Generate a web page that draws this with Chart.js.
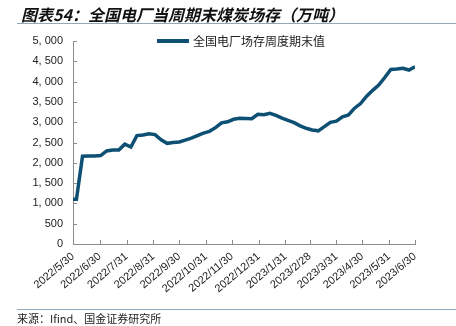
<!DOCTYPE html>
<html>
<head>
<meta charset="utf-8">
<script src="https://cdn.jsdelivr.net/npm/chart.js@4"></script>
<style>
  body { margin: 0; width: 456px; height: 326px; position: relative; background: #fff; overflow: hidden; }
  #title { position: absolute; left: 21px; top: 2px; font: italic bold 16px "Noto Sans CJK SC", sans-serif; color: #111; }
  .rule { position: absolute; left: 17px; right: 0; height: 1px; background: #8fa8ba; }
  #legend { position: absolute; left: 157px; top: 32px; font: 12px "Noto Sans CJK SC", sans-serif; color: #222; display: flex; align-items: center; }
  #legend i { display: inline-block; width: 32px; height: 4px; margin-right: 4px; }
  #source { position: absolute; left: 17px; top: 310px; font: 11px "Noto Sans CJK SC", sans-serif; color: #222; }
  canvas { position: absolute; left: 0; top: 0; }
</style>
</head>
<body>
<canvas id="myChart" width="456" height="326"></canvas>
<div id="title">图表54：全国电厂当周期末煤炭场存（万吨）</div>
<div class="rule" style="top:23px"></div>
<div id="legend"><i></i><span></span></div>
<div class="rule" style="top:309px"></div>
<div id="source">来源：Ifind、国金证券研究所</div>
<script>
var seriesName = "全国电厂场存周度期末值";
var lineColor = "#0d5074";

// weekly end-of-period dates (first point 2022/5/30, then Fridays)
var dates = [
  "2022/5/30", "2022/6/3", "2022/6/10", "2022/6/17", "2022/6/24", "2022/7/1", "2022/7/8",
  "2022/7/15", "2022/7/22", "2022/7/29", "2022/8/5", "2022/8/12", "2022/8/19", "2022/8/26",
  "2022/9/2", "2022/9/9", "2022/9/16", "2022/9/23", "2022/9/30", "2022/10/7", "2022/10/14",
  "2022/10/21", "2022/10/28", "2022/11/4", "2022/11/11", "2022/11/18", "2022/11/25", "2022/12/2",
  "2022/12/9", "2022/12/16", "2022/12/23", "2022/12/30", "2023/1/6", "2023/1/13", "2023/1/20",
  "2023/1/27", "2023/2/3", "2023/2/10", "2023/2/17", "2023/2/24", "2023/3/3", "2023/3/10",
  "2023/3/17", "2023/3/24", "2023/3/31", "2023/4/7", "2023/4/14", "2023/4/21", "2023/4/28",
  "2023/5/5", "2023/5/12", "2023/5/19", "2023/5/26", "2023/6/2", "2023/6/9", "2023/6/16",
  "2023/6/23", "2023/6/30"
];
var stock = [
  1100, 1100, 2160, 2165, 2170, 2177, 2292, 2313, 2317, 2460, 2390, 2670, 2683, 2715,
  2695, 2565, 2480, 2500, 2513, 2560, 2608, 2670, 2730, 2775, 2866, 2985, 3010, 3072,
  3095, 3090, 3085, 3195, 3182, 3218, 3170, 3100, 3045, 2990, 2910, 2850, 2810, 2787,
  2890, 2998, 3025, 3135, 3180, 3345, 3460, 3640, 3785, 3915, 4100, 4298, 4310, 4330,
  4285, 4364
];
var tickDates = [
  "2022/5/30", "2022/6/30", "2022/7/31", "2022/8/31", "2022/9/30", "2022/10/31", "2022/11/30",
  "2022/12/31", "2023/1/31", "2023/2/28", "2023/3/31", "2023/4/30", "2023/5/31", "2023/6/30"
];
var yTicks = [0, 500, 1000, 1500, 2000, 2500, 3000, 3500, 4000, 4500, 5000];

function dayOf(s) {
  var p = s.split("/");
  var t = Date.UTC(+p[0], +p[1] - 1, +p[2]);
  var p0 = tickDates[0].split("/");
  return Math.round((t - Date.UTC(+p0[0], +p0[1] - 1, +p0[2])) / 86400000);
}
var tickDays = tickDates.map(dayOf);

document.querySelector("#legend i").style.background = lineColor;
document.querySelector("#legend span").textContent = seriesName;

// small inward tick marks on both axes
var innerTicks = {
  id: "innerTicks",
  afterDraw: function (chart) {
    var c = chart.ctx, a = chart.chartArea, xs = chart.scales.x, ys = chart.scales.y;
    c.save();
    c.strokeStyle = "#8c8c8c";
    c.lineWidth = 1;
    c.beginPath();
    yTicks.forEach(function (v) {
      var y = Math.round(ys.getPixelForValue(v)) + 0.5;
      c.moveTo(a.left, y); c.lineTo(a.left + 4, y);
    });
    tickDays.forEach(function (d) {
      var x = Math.round(xs.getPixelForValue(d)) + 0.5;
      c.moveTo(x, a.bottom); c.lineTo(x, a.bottom - 4);
    });
    c.stroke();
    c.restore();
  }
};

var ctx = document.getElementById("myChart").getContext("2d");
var chart = new Chart(ctx, {
  type: "line",
  data: {
    datasets: [
      {
        label: seriesName,
        data: dates.map(function (d, i) { return { x: dayOf(d), y: stock[i] }; }),
        borderColor: lineColor,
        backgroundColor: lineColor,
        borderWidth: 3.5,
        pointRadius: 0,
        tension: 0,
      },
    ],
  },
  options: {
    responsive: false,
    animation: false,
    devicePixelRatio: 1,
    layout: { padding: { top: 41, left: 0, right: 41, bottom: 0 } },
    plugins: { legend: { display: false }, tooltip: { enabled: false } },
    scales: {
      x: {
        type: "linear",
        min: 0,
        max: tickDays[tickDays.length - 1],
        grid: { display: false, drawTicks: false },
        border: { color: "#8c8c8c" },
        afterBuildTicks: function (s) { s.ticks = tickDays.map(function (d) { return { value: d }; }); },
        afterFit: function (s) { s.height = 82; },
        ticks: {
          autoSkip: false,
          maxRotation: 40,
          minRotation: 40,
          padding: 6,
          color: "#222",
          font: { family: "Liberation Sans", size: 11 },
          callback: function (v) { return tickDates[tickDays.indexOf(v)]; },
        },
      },
      y: {
        min: 0,
        max: 5000,
        grid: { display: false, drawTicks: false },
        border: { color: "#8c8c8c" },
        afterBuildTicks: function (s) { s.ticks = yTicks.map(function (v) { return { value: v }; }); },
        afterFit: function (s) { s.width = 73; },
        ticks: {
          padding: 10,
          color: "#222",
          font: { family: "Liberation Sans", size: 11 },
          callback: function (v) { return v >= 1000 ? Math.floor(v / 1000) + ", " + String(v % 1000).padStart(3, "0") : String(v); },
        },
      },
    },
  },
  plugins: [innerTicks],
});
</script>
</body>
</html>
